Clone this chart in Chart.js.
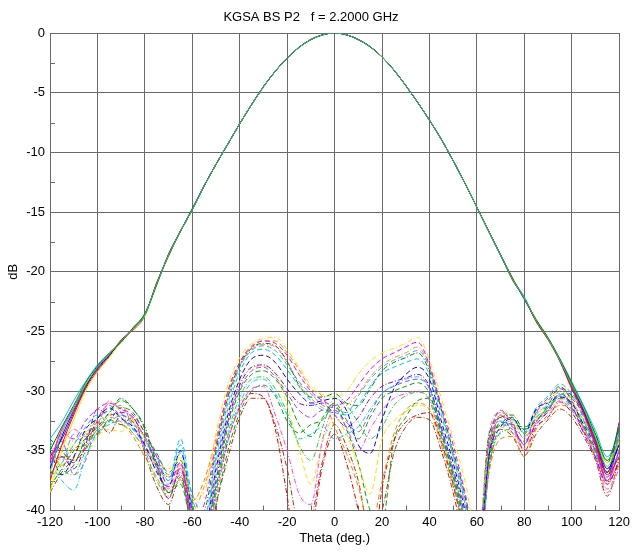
<!DOCTYPE html>
<html><head><meta charset="utf-8">
<script src="https://cdn.jsdelivr.net/npm/chart.js@4.4.0/dist/chart.umd.min.js"></script>
<style>html,body{margin:0;padding:0;background:#fff;}canvas{display:block;}</style>
</head><body>
<canvas id="c" width="634" height="552" style="width:634px;height:552px"></canvas>
<script>
const thetas = [-120,-115,-110,-105,-100,-95,-90,-85,-80,-75,-70,-65,-60,-55,-50,-45,-40,-35,-30,-25,-20,-15,-10,-5,0,5,10,15,20,25,30,35,40,45,50,55,60,65,70,75,80,85,90,95,100,105,110,115,120];
const xTicks = [-120,-100,-80,-60,-40,-20,0,20,40,60,80,100,120];
const yTicks = [0,-5,-10,-15,-20,-25,-30,-35,-40];

// co-polar (solid)
const co1 = [-36.5,-33.8,-31.6,-29.6,-28.1,-27.0,-25.8,-24.8,-23.6,-21.0,-18.6,-16.6,-14.8,-12.8,-11.0,-9.3,-7.6,-6.0,-4.5,-3.2,-2.1,-1.2,-0.55,-0.15,0,-0.15,-0.55,-1.15,-2.0,-3.1,-4.4,-5.8,-7.3,-8.9,-10.7,-12.6,-14.6,-16.6,-18.6,-20.6,-22.2,-24.1,-25.6,-27.4,-29.5,-31.6,-34.0,-36.5,-34.5];
const co2 = [-35.0,-33.0,-31.2,-29.3,-27.9,-26.8,-25.9,-24.7,-23.5,-21.1,-18.5,-16.6,-14.7,-12.8,-11.0,-9.3,-7.6,-6.0,-4.5,-3.2,-2.1,-1.2,-0.55,-0.15,0,-0.15,-0.55,-1.15,-2.0,-3.1,-4.4,-5.8,-7.3,-8.9,-10.7,-12.6,-14.6,-16.6,-18.6,-20.5,-22.3,-24.0,-25.5,-27.3,-29.3,-31.3,-33.6,-35.8,-33.0];
const co3 = [-37.5,-34.5,-32.0,-29.8,-28.3,-27.1,-25.7,-24.9,-23.7,-20.9,-18.7,-16.6,-14.8,-12.8,-11.0,-9.3,-7.6,-6.0,-4.5,-3.2,-2.1,-1.2,-0.55,-0.15,0,-0.15,-0.55,-1.15,-2.0,-3.1,-4.4,-5.8,-7.3,-8.9,-10.7,-12.6,-14.6,-16.6,-18.6,-20.7,-22.2,-24.2,-25.7,-27.5,-29.8,-31.8,-34.4,-37.0,-35.5];
const co4 = [-34.0,-32.6,-30.8,-29.2,-27.8,-26.9,-25.9,-24.8,-23.5,-21.0,-18.6,-16.6,-14.8,-12.8,-11.0,-9.3,-7.6,-6.0,-4.5,-3.2,-2.1,-1.2,-0.55,-0.15,0,-0.15,-0.55,-1.15,-2.0,-3.1,-4.4,-5.8,-7.3,-8.9,-10.7,-12.6,-14.6,-16.6,-18.6,-20.6,-22.1,-24.1,-25.6,-27.3,-29.2,-31.2,-33.3,-35.5,-33.6];
const co5 = [-36.0,-33.2,-31.4,-29.5,-28.2,-27.0,-25.8,-24.7,-23.6,-21.0,-18.6,-16.6,-14.8,-12.8,-11.0,-9.3,-7.6,-6.0,-4.5,-3.2,-2.1,-1.2,-0.55,-0.15,0,-0.15,-0.55,-1.15,-2.0,-3.1,-4.4,-5.8,-7.3,-8.9,-10.7,-12.6,-14.6,-16.6,-18.6,-20.6,-22.3,-24.1,-25.6,-27.5,-29.7,-31.9,-34.6,-37.5,-35.0];
const co6 = [-38.5,-35.0,-32.4,-30.0,-28.4,-27.2,-25.9,-24.8,-23.7,-21.1,-18.6,-16.6,-14.8,-12.8,-11.0,-9.3,-7.6,-6.0,-4.5,-3.2,-2.1,-1.2,-0.55,-0.15,0,-0.15,-0.55,-1.15,-2.0,-3.1,-4.4,-5.8,-7.3,-8.9,-10.7,-12.6,-14.6,-16.6,-18.6,-20.6,-22.2,-24.0,-25.6,-27.4,-29.4,-31.5,-33.8,-36.0,-34.2];
const co7 = [-35.5,-34.0,-31.8,-29.7,-28.0,-26.9,-25.8,-24.8,-23.6,-21.0,-18.6,-16.6,-14.8,-12.8,-11.0,-9.3,-7.6,-6.0,-4.5,-3.2,-2.1,-1.2,-0.55,-0.15,0,-0.15,-0.55,-1.15,-2.0,-3.1,-4.4,-5.8,-7.3,-8.9,-10.7,-12.6,-14.6,-16.6,-18.6,-20.6,-22.2,-24.1,-25.6,-27.4,-29.6,-31.7,-34.2,-36.8,-32.6];
const co8 = [-36.8,-33.5,-31.5,-29.5,-28.0,-26.9,-25.8,-24.8,-23.6,-21.0,-18.6,-16.6,-14.8,-12.8,-11.0,-9.3,-7.6,-6.0,-4.5,-3.2,-2.1,-1.2,-0.55,-0.15,0,-0.15,-0.55,-1.15,-2.0,-3.1,-4.4,-5.8,-7.3,-8.9,-10.7,-12.6,-14.6,-16.6,-18.6,-20.6,-22.2,-24.1,-25.6,-27.4,-29.5,-31.4,-33.9,-36.3,-34.0];

// cross-polar (dashed)
const x1 = [-35.5,-34,-35,-33.5,-32.5,-32,-31.2,-32.5,-34,-36.5,-37,-35.5,-39,-38.5,-33.5,-29.5,-27.2,-26,-25.6,-25.5,-26.5,-28,-29.5,-30.3,-30.5,-30,-28.6,-27.5,-26.8,-26.4,-26,-25.5,-27.4,-30.6,-34,-37.5,-42,-35,-32,-32.5,-33.5,-32,-31,-30,-30.8,-32.5,-34,-36.5,-34];
const x2 = [-36.5,-33.5,-34,-32.5,-31.5,-31,-31.5,-32,-33.5,-35.5,-38,-36,-41,-39.5,-34.5,-30,-27.6,-26.3,-25.8,-26,-27,-28.6,-30,-30.8,-31.2,-30.8,-29.5,-28.2,-27.3,-26.8,-26.3,-25.9,-27.8,-31.2,-34.5,-38.5,-43,-34.5,-31.6,-32.8,-34.5,-31.8,-30.8,-29.8,-30.6,-32,-34.5,-37.5,-33.5];
const x3 = [-34,-35,-36,-34,-33,-31.8,-30.6,-31.5,-33,-36,-38.5,-37,-40.5,-40,-35,-30.5,-27.8,-26.4,-26,-26.2,-27.5,-29.5,-30.5,-30.5,-30.2,-31,-31.2,-29.8,-28.3,-27.6,-27.2,-26.8,-28.3,-31.5,-35,-38.8,-44,-33.8,-32.2,-32,-33.2,-32.5,-31.2,-29.7,-30.4,-31.8,-33.6,-36,-33];
const x4 = [-37,-36,-34.5,-33,-32,-32.5,-32,-32.8,-33.8,-36,-37.5,-34,-39,-41,-36,-31.5,-28.4,-26.8,-26.5,-27,-28.2,-29.6,-30.8,-31.6,-31.8,-32,-31.2,-29.6,-28.5,-28,-27.6,-27.3,-28.6,-32,-35.5,-39.5,-45,-34.8,-32.5,-33,-33.8,-32.2,-31.5,-30.3,-30.2,-32.4,-35.2,-37.2,-35];
const x5 = [-35,-37,-35.5,-33.2,-32.3,-31.4,-32.3,-33,-34.5,-36.8,-38,-35,-40,-41.5,-36.5,-32,-29,-27.3,-27,-27.6,-29,-30.2,-31,-30.8,-30.6,-31.6,-34.5,-35.2,-32.4,-29.8,-28.6,-28,-29,-32.5,-36,-40,-45,-35.5,-33,-32.3,-33.5,-31.5,-31,-30.5,-31,-32.8,-34.5,-36.8,-34.5];
const x6 = [-36,-35.5,-36.5,-34.5,-31.5,-32,-31.8,-32.2,-34,-36.2,-39,-36.5,-40.5,-42,-37.5,-32.5,-29.5,-28,-27.8,-28.5,-29.8,-31,-31.2,-31,-32,-33,-32.2,-30.6,-29.6,-29.2,-28.9,-28.6,-29.6,-33,-36.5,-40.5,-46,-35.2,-32,-33.5,-34.2,-32.8,-31.7,-30.2,-31.2,-33.5,-35.5,-37.8,-35.8];
const x7 = [-38,-36.5,-35,-34,-33.5,-32.5,-31.4,-31.8,-33.5,-35.2,-36.8,-35.8,-39.5,-42.5,-38,-33,-30,-28.6,-28.3,-29,-30.5,-32.8,-33.8,-32.2,-31,-32.4,-34,-32.2,-30.6,-30,-29.6,-29.3,-30.2,-33.5,-37,-41,-45,-36,-32.6,-32.8,-33,-32.4,-31.6,-30,-31.4,-33,-34.8,-37,-34];
const x8 = [-34.5,-36.5,-37,-35,-33,-32.6,-32.8,-33.5,-35,-37.5,-38.8,-37.5,-41,-43,-38.5,-33.6,-30.5,-29,-28.8,-29.8,-31.8,-34.5,-35.8,-33,-30.6,-31.2,-32.6,-34,-33,-31.2,-30.4,-30.1,-30.6,-33.8,-37.5,-41.5,-46,-36.5,-33.5,-33.2,-34.5,-32,-31.3,-30.6,-30.5,-32.2,-35,-37.5,-34];
const x9 = [-36,-37.5,-38.3,-35.5,-33.5,-32.8,-32.5,-33.2,-34.2,-35.5,-37.5,-34.5,-39.8,-42,-38,-33.8,-31,-29.3,-29,-30.2,-32,-34,-33.6,-33,-34,-33.6,-33,-31.5,-30.2,-29.5,-29,-28.8,-29.8,-33.2,-36.8,-41,-46,-35.8,-33.4,-32.4,-33.4,-31.8,-31.2,-30.4,-31.5,-32.6,-34.2,-36.4,-35.4];
const x10 = [-35.8,-34.5,-33.2,-33.8,-32.8,-31,-31.5,-32.4,-34.8,-36.6,-38.2,-36.8,-40.2,-43,-39,-34.2,-31.4,-29.8,-29.6,-32,-35,-38.6,-39.5,-34,-31.6,-33,-35,-33.2,-31.6,-30.6,-30.2,-30,-30.8,-34,-37.5,-42,-47,-36.5,-32,-33,-35,-32.6,-31.8,-30.8,-31.6,-33.2,-35.6,-38.5,-36.5];
const x11 = [-37,-35.5,-35.8,-34.8,-32.6,-33.5,-32,-32.6,-33.8,-36,-37.2,-36.5,-40.5,-44,-38.5,-34.2,-31.3,-30.2,-30.5,-33.2,-38.8,-45,-42,-36.2,-33.6,-36,-40,-45,-38.2,-34.2,-32.6,-32,-31.8,-34.2,-37.8,-42,-46,-35.5,-32.2,-32.6,-35,-33,-32.2,-30.9,-31.8,-33.4,-35,-37.6,-36];
const x12 = [-37.5,-36,-34.5,-35.2,-33.8,-33.2,-33.4,-32.4,-34,-35.8,-36.5,-35.6,-39.5,-41,-37.2,-32.2,-29.2,-28,-27.9,-28.6,-31.2,-34.8,-37.8,-34.2,-32.2,-33.6,-36.2,-38.6,-34,-32.5,-31.7,-31.2,-31.4,-33.8,-36.8,-40.5,-45,-34.6,-33,-33.6,-34.8,-32.4,-31.6,-30.7,-31,-32.8,-35.2,-37,-33.8];
const x13 = [-36.8,-37,-36.2,-34.2,-32.2,-31.6,-30.8,-31.5,-33.2,-36.5,-38.5,-37.8,-41.5,-43.5,-39.5,-35,-31.8,-30,-29.5,-30.4,-32.5,-33.5,-32.8,-32.4,-31.2,-33.2,-36,-40,-41,-34.2,-32.2,-30.8,-30.6,-33.5,-37.2,-41.5,-46,-35,-32.8,-32.2,-33.6,-31.6,-30.6,-29.6,-30.8,-32.5,-34.3,-36.8,-33.2];
const x14 = [-35.2,-36.2,-34.8,-34.5,-33.2,-32.2,-32.6,-33.8,-35.5,-37.2,-39,-36.2,-39.2,-37.5,-34,-30.2,-27.6,-26.2,-25.8,-25.8,-26.8,-28.2,-29.8,-30.5,-33,-35.2,-38,-41.5,-37.6,-33.6,-31.6,-31,-31.6,-34.5,-38,-42,-46,-37,-34,-33.8,-35.5,-33.2,-32,-31.2,-31.5,-33,-35.4,-38.2,-36.2];
const x15 = [-34.2,-35.8,-33.6,-34.6,-33.4,-31.8,-31.2,-33,-34.6,-36.2,-37.8,-35.2,-38.6,-40.5,-35.5,-31,-28,-26.6,-26.2,-26.6,-27.8,-29.2,-30.2,-31.2,-31.4,-31.8,-30.4,-29,-28,-27.4,-27,-26.6,-28,-31.4,-35.2,-39,-44,-34.2,-31.8,-32.4,-33.2,-31.4,-30.4,-29.4,-30.2,-31.6,-33.8,-35.8,-34.6];
const x16 = [-38.5,-36.8,-35.6,-33.6,-33.6,-32.4,-32.8,-32.2,-35.2,-38,-39.5,-37.2,-42,-45,-39.6,-35.6,-32.2,-30.6,-30.6,-32.8,-36.5,-41,-40.5,-35.8,-32.8,-34.6,-37.5,-42,-40,-35.2,-33,-32.2,-32.4,-35,-38.5,-43,-47,-36.8,-33.2,-33.8,-35.4,-33.6,-32.4,-31.5,-32.2,-33.8,-35.8,-38.8,-35.6];
const x17 = [-35.4,-34.2,-37,-35.8,-32.4,-31.2,-32.2,-33.2,-34.4,-35.4,-37,-36,-40.8,-42.5,-37,-32.6,-29.8,-28.3,-28,-28.8,-30.2,-31.6,-32.2,-31.6,-31.6,-32.6,-33.4,-31.8,-30.2,-29.6,-29.2,-29,-29.8,-33.2,-36.8,-40.8,-46,-35.4,-32.8,-33.2,-34.4,-32.6,-31.4,-30.6,-30.9,-33,-35,-37.2,-33.5];
const x18 = [-36.5,-33.2,-34.2,-33.4,-32.8,-30.8,-31.8,-33.6,-34.6,-36.4,-38.4,-37.4,-40,-38,-34.6,-30.6,-27.9,-26.5,-26.1,-26.3,-27.6,-29.3,-30.6,-31.4,-31.8,-31.2,-30.2,-28.8,-27.8,-27.2,-26.8,-26.3,-28,-31.6,-35.4,-39.4,-44,-33.6,-31.8,-32.2,-34,-32.2,-31.6,-30.4,-31,-33.2,-35.6,-37.8,-34.8];

const DASH = [5,3], DASHDOT = [5,2,1,2];
const coSeries = [
  [co8,'#3ad03a'],[co1,'#0000ff'],[co2,'#008000'],[co6,'#e8e800'],[co3,'#ff0000'],
  [co4,'#00bfff'],[co5,'#ff00ff'],[co7,'#8000c0']
];
const xSeries = [
  [x1,'#f2e600',DASHDOT],[x2,'#ff00ff',DASH],[x3,'#008000',DASHDOT],[x4,'#00bfff',DASH],
  [x5,'#0000ff',DASH],[x6,'#8000ff',DASHDOT],[x7,'#00a000',DASH],[x8,'#33cc33',DASHDOT],
  [x9,'#00ccff',DASHDOT],[x10,'#ff40ff',DASHDOT],[x11,'#e00000',DASHDOT],[x12,'#ffe000',DASH],
  [x13,'#00a000',DASH],[x14,'#ff8000',DASH],[x15,'#40a0ff',DASH],[x16,'#b03000',DASHDOT],
  [x17,'#a040ff',DASH],[x18,'#ff9020',DASHDOT]
];
const toPts = arr => thetas.map((t,i)=>({x:t,y:arr[i]}));
const datasets = [];
coSeries.forEach(([a,c])=>datasets.push({data:toPts(a),borderColor:c,borderWidth:1,pointRadius:0,fill:false,cubicInterpolationMode:'monotone'}));
xSeries.forEach(([a,c,d])=>datasets.push({data:toPts(a),borderColor:c,borderWidth:1,borderDash:d,pointRadius:0,fill:false,cubicInterpolationMode:'monotone'}));

const FONT = 'Liberation Sans, Arial, sans-serif';
const GRID = '#6a6a6a';
const minorTicks = {
  id:'minorTicks',
  beforeDatasetsDraw(chart){
    const {ctx, chartArea:a, scales:{x,y}} = chart;
    ctx.save(); ctx.strokeStyle = GRID; ctx.lineWidth = 1; ctx.beginPath();
    for (let i=0;i<xTicks.length-1;i++){ const v=(xTicks[i]+xTicks[i+1])/2; const px=Math.round(x.getPixelForValue(v))+0.5; ctx.moveTo(px,a.bottom); ctx.lineTo(px,a.bottom-5); }
    for (let i=0;i<yTicks.length-1;i++){ const v=(yTicks[i]+yTicks[i+1])/2; const py=Math.round(y.getPixelForValue(v))+0.5; ctx.moveTo(a.left,py); ctx.lineTo(a.left+5,py); }
    ctx.stroke(); ctx.restore();
  }
};

new Chart(document.getElementById('c'), {
  type:'line',
  data:{datasets},
  plugins:[minorTicks],
  options:{
    responsive:false, animation:false, devicePixelRatio:1,
    layout:{padding:{left:0,right:12,top:0,bottom:0}},
    plugins:{
      legend:{display:false}, tooltip:{enabled:false},
      title:{display:true,text:'KGSA BS P2   f = 2.2000 GHz',color:'#000',font:{family:FONT,size:13,weight:'normal'},padding:{top:9.5,bottom:7.9}}
    },
    scales:{
      x:{type:'linear',min:-120,max:120,
        afterBuildTicks(s){ s.ticks = xTicks.map(v=>({value:v})); },
        afterFit(s){ s.height = 41.5; },
        ticks:{color:'#000',font:{family:FONT,size:13},padding:4,maxRotation:0,autoSkip:false},
        grid:{color:GRID,lineWidth:1,drawTicks:false},
        border:{color:GRID},
        title:{display:true,text:'Theta (deg.)',color:'#000',font:{family:FONT,size:13},padding:{top:0,bottom:6}}
      },
      y:{min:-40,max:0,
        afterBuildTicks(s){ s.ticks = yTicks.map(v=>({value:v})); },
        afterFit(s){ s.width = 50; },
        ticks:{color:'#000',font:{family:FONT,size:13},padding:5},
        grid:{color:GRID,lineWidth:1,drawTicks:false},
        border:{color:GRID},
        title:{display:true,text:'dB',color:'#000',font:{family:FONT,size:13},padding:{top:6,bottom:0}}
      }
    }
  }
});
</script>
</body></html>
